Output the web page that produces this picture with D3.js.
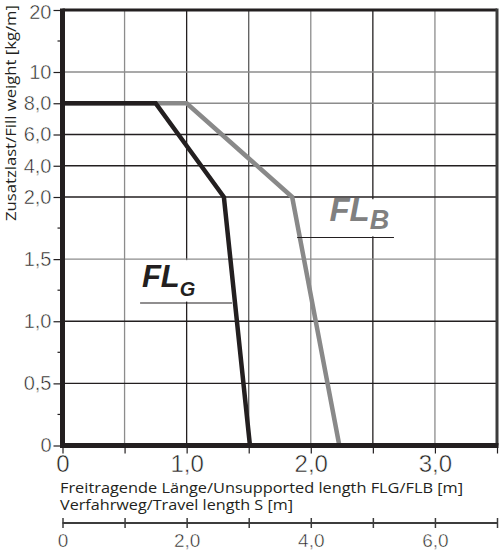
<!DOCTYPE html>
<html>
<head>
<meta charset="utf-8">
<script src="https://cdn.jsdelivr.net/npm/d3@7"></script>
<style>
  body { margin: 0; background: #fff; }
  svg { display: block; }
  .num { font-family: "Liberation Sans", Arial, sans-serif; fill: #231f20;
         stroke: #fff; stroke-width: 0.5px; paint-order: fill stroke; }
  .title { font-family: "Open Sans", sans-serif; font-size: 15px; fill: #231f20; }
</style>
</head>
<body>
<svg width="500" height="555"></svg>
<script>
// Curve data (x: unsupported length in m, y: fill weight in kg/m)
const flgX = [0, 0.75, 1.3, 1.51];
const flgY = [8, 8, 2, 0];
const flbX = [0, 1.0, 1.85, 2.23];
const flbY = [8, 8, 2, 0];

// Axis ticks
const yTicks = [0, 0.5, 1, 1.5, 2, 4, 6, 8, 10, 20];
const yLabels = ["0", "0,5", "1,0", "1,5", "2,0", "4,0", "6,0", "8,0", "10", "20"];
const yMinor = [0.25, 0.75, 1.25, 1.75, 15];
const xTicks = [0, 0.5, 1, 1.5, 2, 2.5, 3, 3.5];
const xLabels = ["0", "", "1,0", "", "2,0", "", "3,0", ""];
const sTicks = [0, 1, 2, 3, 4, 5, 6, 7];
const sLabels = ["0", "", "2,0", "", "4,0", "", "6,0", ""];

// Grid lines (dark or grey like the print)
const xGrid = [0.5, 1, 1.5, 2, 2.5, 3];
const xGridCol = ["#8c8c8c", "#231f20", "#5a5a5a", "#8c8c8c", "#231f20", "#8c8c8c"];
const yGrid = [0.5, 1, 1.5, 2, 4, 6, 8, 10];
const yGridCol = ["#231f20", "#231f20", "#8c8c8c", "#231f20", "#231f20", "#231f20", "#8c8c8c", "#8c8c8c"];

const svg = d3.select("svg");

const x = d3.scaleLinear().domain([0, 3.5]).range([62.5, 497]);
const s = d3.scaleLinear().domain([0, 7]).range([62.5, 497]);
// piecewise scale: 0-2 stretched, 2-10 compressed, 10-20 again wider
const y = d3.scaleLinear().domain([0, 2, 10, 20]).range([445.5, 197, 72, 10]);

// grid
svg.append("g").selectAll("line")
    .data(xGrid)
    .enter().append("line")
    .attr("x1", d => x(d)).attr("x2", d => x(d))
    .attr("y1", y(20)).attr("y2", y(0))
    .attr("stroke", (d, i) => xGridCol[i])
    .attr("stroke-width", 1.3);

svg.append("g").selectAll("line")
    .data(yGrid)
    .enter().append("line")
    .attr("x1", x(0)).attr("x2", x(3.5))
    .attr("y1", d => y(d)).attr("y2", d => y(d))
    .attr("stroke", (d, i) => yGridCol[i])
    .attr("stroke-width", 1.3);

// white boxes behind the curve labels
const boxes = [
  {x0: 0.585, x1: 1.366, y0: 1.5, y1: 1.15},
  {x0: 2.09, x1: 2.72, y0: 1.99, y1: 1.675}
];
svg.append("g").selectAll("rect")
    .data(boxes)
    .enter().append("rect")
    .attr("x", d => x(d.x0))
    .attr("y", d => y(d.y0) + 1)
    .attr("width", d => x(d.x1) - x(d.x0))
    .attr("height", d => y(d.y1) - y(d.y0) - 2)
    .attr("fill", "#fff");

// frame top / right
svg.append("line")
    .attr("x1", x(0)).attr("x2", x(3.5))
    .attr("y1", y(20)).attr("y2", y(20))
    .attr("stroke", "#231f20").attr("stroke-width", 3);
svg.append("line")
    .attr("x1", x(3.5)).attr("x2", x(3.5))
    .attr("y1", y(20) - 1.5).attr("y2", y(0))
    .attr("stroke", "#3c3c3c").attr("stroke-width", 3);

// curves
const line = d3.line().x(d => x(d[0])).y(d => y(d[1]));
svg.append("path")
    .datum(d3.zip(flbX, flbY))
    .attr("d", line)
    .attr("fill", "none")
    .attr("stroke", "#898989")
    .attr("stroke-width", 4.5);
svg.append("path")
    .datum(d3.zip(flgX, flgY))
    .attr("d", line)
    .attr("fill", "none")
    .attr("stroke", "#231f20")
    .attr("stroke-width", 4.5);

// y axis
const yAxis = svg.append("g")
    .attr("transform", "translate(" + x(0) + ",0)")
    .call(d3.axisLeft(y).tickValues(yTicks)
        .tickFormat((d, i) => yLabels[i]).tickSize(9).tickPadding(2));
yAxis.select(".domain").remove();
yAxis.selectAll(".tick line").attr("stroke", "#231f20").attr("stroke-width", 1.2);
yAxis.selectAll(".tick text").attr("class", "num").style("font-size", "20px");
yAxis.selectAll(".tick text").filter(d => d === 20).attr("dy", "0.4em");

svg.append("g")
    .attr("transform", "translate(" + x(0) + ",0)")
    .selectAll("line")
    .data(yMinor)
    .enter().append("line")
    .attr("x1", -5).attr("x2", 0)
    .attr("y1", d => y(d)).attr("y2", d => y(d))
    .attr("stroke", "#231f20").attr("stroke-width", 1.2);

// x axis (length)
const xAxis = svg.append("g")
    .attr("transform", "translate(0," + y(0) + ")")
    .call(d3.axisBottom(x).tickValues(xTicks)
        .tickFormat((d, i) => xLabels[i]).tickSize(8).tickPadding(1));
xAxis.select(".domain").remove();
xAxis.selectAll(".tick line").attr("stroke", "#231f20").attr("stroke-width", 1.2);
xAxis.selectAll(".tick text").attr("class", "num").style("font-size", "24px");

// thick left and bottom axis lines
svg.append("line")
    .attr("x1", x(0)).attr("x2", x(0))
    .attr("y1", y(20) - 1.5).attr("y2", y(0) + 2.5)
    .attr("stroke", "#231f20").attr("stroke-width", 5);
svg.append("line")
    .attr("x1", x(0)).attr("x2", x(3.5) + 1.5)
    .attr("y1", y(0)).attr("y2", y(0))
    .attr("stroke", "#231f20").attr("stroke-width", 5);

// second axis (travel length S)
const sAxis = svg.append("g")
    .attr("transform", "translate(0,523)")
    .call(d3.axisBottom(s).tickValues(sTicks)
        .tickFormat((d, i) => sLabels[i]).tickSize(5).tickPadding(6));
sAxis.select(".domain")
    .attr("d", "M" + s(0) + ",0H" + s(7))
    .attr("stroke", "#3c3c3c").attr("stroke-width", 2);
sAxis.selectAll(".tick line").attr("y1", -5).attr("stroke", "#3c3c3c").attr("stroke-width", 1.5);
sAxis.selectAll(".tick text").attr("class", "num").style("font-size", "19px");

// axis titles
svg.append("text")
    .attr("class", "title")
    .attr("x", 60).attr("y", 493)
    .attr("textLength", 403).attr("lengthAdjust", "spacingAndGlyphs")
    .text("Freitragende Länge/Unsupported length FLG/FLB [m]");
svg.append("text")
    .attr("class", "title")
    .attr("x", 60).attr("y", 510)
    .attr("textLength", 233).attr("lengthAdjust", "spacingAndGlyphs")
    .text("Verfahrweg/Travel length S [m]");
svg.append("text")
    .attr("class", "title")
    .attr("transform", "translate(16,113) rotate(-90)")
    .attr("text-anchor", "middle")
    .attr("textLength", 216).attr("lengthAdjust", "spacingAndGlyphs")
    .text("Zusatzlast/Fill weight [kg/m]");

// curve labels
const labels = [
  {main: "FL", sub: "G", lx: 0.64, ly: 1.276, size: 31, subSize: 20, dy: 9, col: "#231f20",
   ux0: 0.625, ux1: 1.366, uy: 1.147},
  {main: "FL", sub: "B", lx: 2.15, ly: 1.805, size: 33, subSize: 27, dy: 8, col: "#808080",
   ux0: 1.89, ux1: 2.67, uy: 1.674}
];
labels.forEach(function(l) {
  let t = svg.append("text")
      .attr("x", x(l.lx)).attr("y", y(l.ly))
      .attr("fill", l.col)
      .style("font-family", "'Liberation Sans', Arial, sans-serif")
      .style("font-weight", "bold")
      .style("font-style", "italic")
      .style("font-size", l.size + "px");
  t.append("tspan").text(l.main);
  t.append("tspan").attr("dy", l.dy).style("font-size", l.subSize + "px").text(l.sub);
  svg.append("line")
      .attr("x1", x(l.ux0)).attr("x2", x(l.ux1))
      .attr("y1", y(l.uy)).attr("y2", y(l.uy))
      .attr("stroke", "#231f20").attr("stroke-width", 1.2);
});
</script>
</body>
</html>
